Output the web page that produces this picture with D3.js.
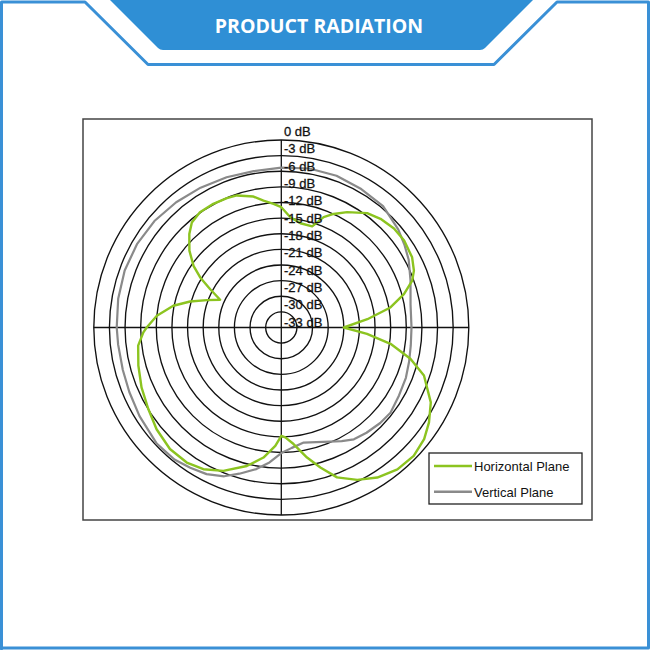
<!DOCTYPE html>
<html><head><meta charset="utf-8">
<script src="https://cdn.jsdelivr.net/npm/d3@7"></script>
<style>
html,body{margin:0;padding:0;background:#fff;}
svg{display:block;}
</style></head>
<body>
<svg id="chart" width="650" height="650"></svg>
<script>
// ---- data ----
const titleText = "PRODUCT RADIATION";
const dbTicks = [0, -3, -6, -9, -12, -15, -18, -21, -24, -27, -30, -33];
const seriesNames = ["Horizontal Plane", "Vertical Plane"];

// Horizontal plane: angle (deg, clockwise from top) and level (dB)
const horizAngles = [0, 4.7, 10.4, 17, 21, 24.7, 29.7, 36.9, 42.4, 48.7, 54.7, 61.8, 66.8, 70.3, 74.8, 79.6, 84.5, 90,
  94.2, 98.5, 103.6, 108.6, 116.6, 122.7, 128, 134.1, 140.7, 147.4, 153.5, 159.6, 164.4, 168.8, 174, 177.9, 180,
  182.9, 187.8, 194, 202, 208.8, 215, 222.5, 230.8, 238.5, 246.8, 255.1, 262.8, 268, 270, 275.4, 281.4, 285.9, 290.2, 294.4,
  298.3, 301.7, 305.1, 309.9, 315.5, 319.6, 324.8, 331.2, 337.2, 341.4, 348, 352, 356.4];
const horizDb = [-12.9, -14.75, -15.65, -15.7, -13.3, -12.0, -10.5, -8.55, -7.75, -7.2, -7.1, -7.5, -8.3, -9.3, -11.6, -14.7, -19.4, -24.0,
  -19.5, -14.8, -10.5, -7.1, -3.9, -2.3, -1.2, -0.6, -0.8, -1.8, -3.3, -5.3, -8.1, -10.55, -13.5, -14.9, -15.2,
  -13.25, -10.8, -8.6, -6.3, -4.95, -4.35, -4.35, -5.1, -6.05, -6.8, -7.6, -8.3, -9.5, -10.15, -12.0, -14.85, -17.8, -20.8, -23.1,
  -20.5, -17.7, -15.4, -13.0, -10.8, -9.5, -8.9, -8.9, -9.05, -9.25, -10.3, -11.4, -12.2];

// Vertical plane
const vertAngles = [0, 10, 20, 30, 40, 50, 56, 62, 70, 80, 90, 98, 105, 112, 120, 128, 134, 141, 147, 152, 157, 163, 169, 175, 180,
  185, 190, 196, 201, 207, 213, 219, 227, 238, 247, 255, 264, 270, 280, 290, 300, 310, 320, 330, 340, 350];
const vertDb = [-5.3, -5.0, -5.0, -5.3, -5.6, -6.7, -7.5, -8.3, -9.6, -10.8, -11.0, -10.9, -10.6, -10.2, -9.9, -9.4, -9.6, -10.0, -10.4, -11.3, -12.2, -13.0, -13.5, -12.8, -11.9,
  -10.0, -8.4, -6.8, -5.4, -4.4, -3.9, -3.4, -3.3, -3.9, -4.3, -4.5, -4.5, -4.4, -4.2, -4.0, -4.0, -4.2, -4.6, -5.0, -5.3, -5.5];

// ---- drawing ----
const svg = d3.select("#chart");
const blue = "#2f8fd5";

// outer decorative frame
svg.append("path")
  .attr("d", "M1.5,649 V2 H85 L148,64.5 H494 L557,2 H648.5 V648 H1.5 Z")
  .attr("fill", "none").attr("stroke", "#3a90d6").attr("stroke-width", 3)
  .attr("stroke-linejoin", "round");

// banner
svg.append("path")
  .attr("d", "M110,0 H533 L485,48 Q483,50 480,50 H163 Q160,50 158,48 Z")
  .attr("fill", blue);
svg.append("text")
  .attr("x", 319).attr("y", 33)
  .attr("text-anchor", "middle")
  .attr("font-family", "'Open Sans', 'Noto Sans', sans-serif")
  .attr("font-weight", "bold").attr("font-size", 19.5)
  .attr("fill", "#fff")
  .text(titleText);

// chart frame
svg.append("rect")
  .attr("x", 83).attr("y", 119).attr("width", 509).attr("height", 401)
  .attr("fill", "#fff").attr("stroke", "#444").attr("stroke-width", 1.5);

const cx = 281.3, cy = 327.5, R = 187.5;
const r = d3.scaleLinear().domain([-36, 0]).range([0, R]);
const labelY = d3.scaleLinear().domain([0, -33]).range([136, 326.5]);

const g = svg.append("g").attr("transform", `translate(${cx},${cy})`);

// rings
g.selectAll("circle.ring").data(dbTicks).join("circle")
  .attr("class", "ring")
  .attr("r", d => r(d))
  .attr("fill", "none").attr("stroke", "#111").attr("stroke-width", 1.35);

// axes
g.append("line").attr("x1", -r(0)).attr("x2", r(0)).attr("y1", 0).attr("y2", 0)
  .attr("stroke", "#111").attr("stroke-width", 1.3);
g.append("line").attr("y1", -r(0)).attr("y2", r(0)).attr("x1", 0).attr("x2", 0)
  .attr("stroke", "#111").attr("stroke-width", 1.3);

// series
const toPts = (angles, dbs) => angles.map((a, i) => [a * Math.PI / 180, r(dbs[i])]);
const radial = d3.lineRadial().angle(d => d[0]).radius(d => d[1]).curve(d3.curveLinearClosed);

g.append("path").attr("d", radial(toPts(vertAngles, vertDb)))
  .attr("fill", "none").attr("stroke", "#8a8a8a").attr("stroke-width", 2.2)
  .attr("stroke-linejoin", "round");
g.append("path").attr("d", radial(toPts(horizAngles, horizDb)))
  .attr("fill", "none").attr("stroke", "#8cc420").attr("stroke-width", 2.4)
  .attr("stroke-linejoin", "round");

// dB labels
svg.selectAll("text.db").data(dbTicks).join("text")
  .attr("class", "db")
  .attr("x", 284).attr("y", d => labelY(d))
  .attr("font-family", "'Liberation Sans', Arial, sans-serif")
  .attr("font-size", 13).attr("fill", "#111")
  .attr("stroke", "#111").attr("stroke-width", 0.3)
  .text(d => `${d} dB`);

// legend
const lg = svg.append("g");
lg.append("rect").attr("x", 429).attr("y", 453).attr("width", 153).attr("height", 51)
  .attr("fill", "#fff").attr("stroke", "#222").attr("stroke-width", 1.3);
const legColors = ["#8cc420", "#8a8a8a"];
seriesNames.forEach((name, i) => {
  const y = 466 + i * 25.7;
  lg.append("line").attr("x1", 434).attr("x2", 472).attr("y1", y).attr("y2", y)
    .attr("stroke", legColors[i]).attr("stroke-width", 2.4);
  lg.append("text").attr("x", 474).attr("y", y + 5)
    .attr("font-family", "'Liberation Sans', Arial, sans-serif")
    .attr("font-size", 13).attr("fill", "#111").text(name);
});
</script>
</body></html>
